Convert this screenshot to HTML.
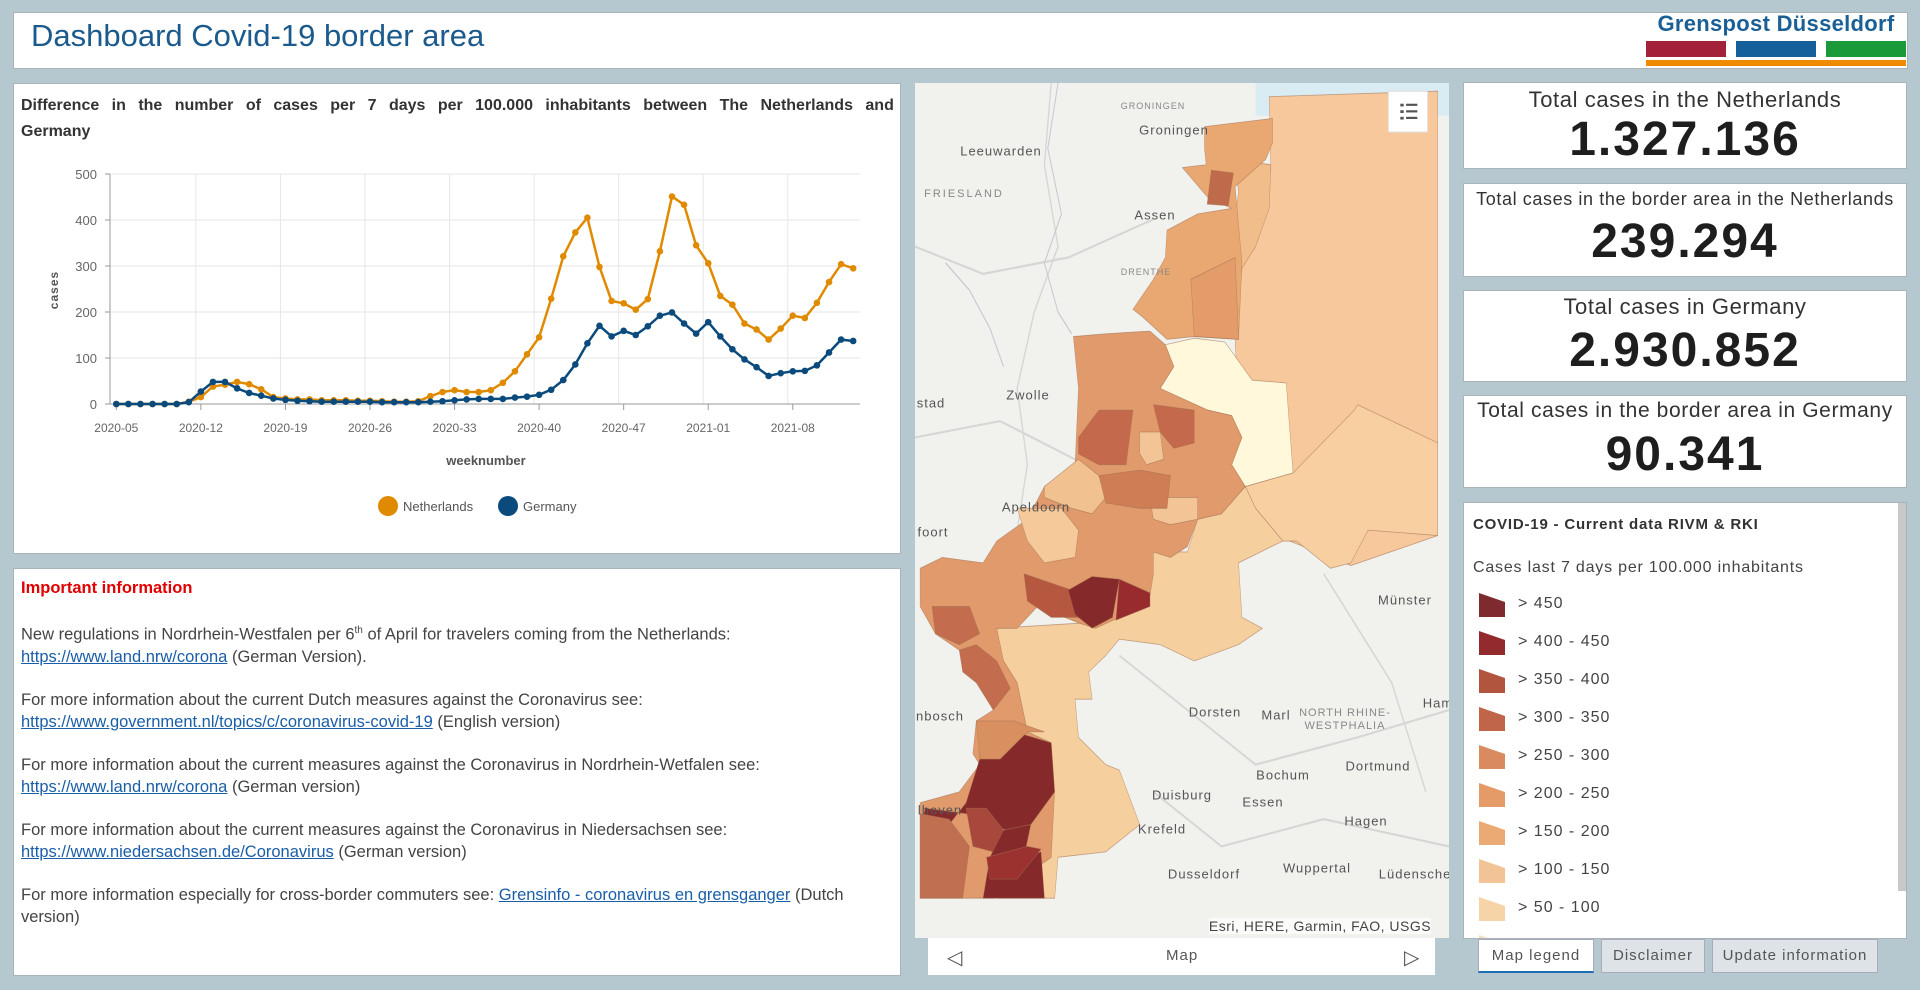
<!DOCTYPE html>
<html><head><meta charset="utf-8">
<style>
*{margin:0;padding:0;box-sizing:border-box}
body{width:1920px;height:990px;background:#b5c8d0;position:relative;overflow:hidden;font-family:"Liberation Sans",sans-serif}
.p{position:absolute;background:#fff;border:1px solid #a9b4ba}
.abs{position:absolute;white-space:nowrap}
.stat{text-align:center;color:#222}
.stat .l{position:absolute;left:0;right:0;font-size:22px;letter-spacing:0.6px;color:#333}
.stat .n{position:absolute;left:0;right:0;font-size:48px;font-weight:bold;letter-spacing:2px;color:#1e1e1e}
.info{font-size:16.5px;color:#444;line-height:22px}
.info a{color:#1a5ea8;text-decoration:underline}
.ml{position:absolute;font-size:13px;color:#555;letter-spacing:1px;white-space:nowrap;transform:translate(-50%,-50%)}
.leg{position:absolute;font-size:16px;color:#444;letter-spacing:1px}
.tab{position:absolute;top:939px;height:34px;border:1px solid #aab;background:#dde3e6;font-size:15px;color:#555;text-align:center;line-height:32px;letter-spacing:1px}
</style></head><body>
<!-- header -->
<div class="p" style="left:13px;top:12px;width:1895px;height:57px"></div>
<div class="abs" style="left:31px;top:18px;font-size:31px;color:#1b5a8c">Dashboard Covid-19 border area</div>
<div class="abs" style="left:1646px;top:11px;width:260px;font-size:22px;font-weight:bold;color:#1a5f95;letter-spacing:0.3px;text-align:center">Grenspost Düsseldorf</div>
<div class="abs" style="left:1646px;top:41px;width:80px;height:16px;background:#a3223a"></div>
<div class="abs" style="left:1736px;top:41px;width:80px;height:16px;background:#155f9a"></div>
<div class="abs" style="left:1826px;top:41px;width:80px;height:16px;background:#1b9a3a"></div>
<div class="abs" style="left:1646px;top:60px;width:260px;height:6px;background:#ef8b00"></div>

<!-- chart panel -->
<div class="p" style="left:13px;top:83px;width:888px;height:471px"></div>
<div class="abs" style="left:21px;top:93px;width:873px;font-size:16px;font-weight:bold;color:#333;line-height:26px">
<div style="display:flex;justify-content:space-between"><span>Difference</span><span>in</span><span>the</span><span>number</span><span>of</span><span>cases</span><span>per</span><span>7</span><span>days</span><span>per</span><span>100.000</span><span>inhabitants</span><span>between</span><span>The</span><span>Netherlands</span><span>and</span></div>
<div>Germany</div></div>
<svg id="ch" class="abs" style="left:0;top:0" width="1920" height="990"></svg>

<!-- info panel -->
<div class="p" style="left:13px;top:568px;width:888px;height:408px"></div>
<div class="abs info" style="left:21px;top:577px;white-space:normal;width:870px">
<div style="color:#e00000;font-weight:bold">Important information</div>
<div style="height:21px"></div>
<div>New regulations in Nordrhein-Westfalen per 6<sup style="font-size:10px">th</sup> of April for travelers coming from the Netherlands:<br><a>https://www.land.nrw/corona</a> (German Version).</div>
<div style="height:21px"></div>
<div>For more information about the current Dutch measures against the Coronavirus see:<br><a>https://www.government.nl/topics/c/coronavirus-covid-19</a> (English version)</div>
<div style="height:21px"></div>
<div>For more information about the current measures against the Coronavirus in Nordrhein-Wetfalen see:<br><a>https://www.land.nrw/corona</a> (German version)</div>
<div style="height:21px"></div>
<div>For more information about the current measures against the Coronavirus in Niedersachsen see:<br><a>https://www.niedersachsen.de/Coronavirus</a> (German version)</div>
<div style="height:21px"></div>
<div>For more information especially for cross-border commuters see: <a>Grensinfo - coronavirus en grensganger</a> (Dutch<br>version)</div>
</div>

<!-- map -->
<div class="abs" style="left:915px;top:83px;width:534px;height:855px;background:#f1f1ee;overflow:hidden">
<svg width="534" height="855" viewBox="0 0 1568 1568" preserveAspectRatio="none" style="position:absolute;left:0;top:0">
<rect x="1000" y="0" width="568" height="60" fill="#d9ebf3"/>
<g fill="none" stroke="#d6d6d6" stroke-width="4">
<path d="M400,0 L380,150 L420,300 L350,420 L300,560 L330,700 L280,900"/>
<path d="M0,300 L200,350 L450,320 L700,250"/>
<path d="M0,650 L250,620 L500,700"/>
<path d="M600,1050 L800,1150 L1000,1250 L1300,1200 L1568,1150"/>
<path d="M700,1300 L900,1400 L1200,1350 L1568,1400"/>
<path d="M1200,900 L1300,1000 L1400,1100 L1500,1300"/>
</g>
<g fill="none" stroke="#c9c9d2" stroke-width="3">
<path d="M420,0 L390,120 L430,240 L380,330 L420,420 L460,460"/>
<path d="M90,330 L160,380 L220,450 L260,520"/>
</g>
<g stroke="#a07050" stroke-width="1.5" stroke-opacity="0.6">
<polygon fill="#f6c89b" points="1040,25 1535,15 1535,830 1280,885 1100,840 970,740 940,480 960,340 1045,160"/>
<polygon fill="#f7cfa1" points="1300,590 1535,660 1535,830 1330,820 1280,880 1220,890 1120,840 1080,840 1000,780 970,740 1110,715 1290,600"/>
<polygon fill="#f1bd8b" points="940,140 1045,150 1040,230 1000,300 960,340 930,290 950,200"/>
<polygon fill="#e9a872" points="850,80 1050,65 1050,110 1030,140 940,190 960,330 950,470 820,465 740,470 670,430 640,415 700,360 735,320 740,270 830,240 930,230 860,210 785,155 855,150 850,120"/>
<polygon fill="#e39c6a" points="810,360 940,320 950,470 820,465"/>
<polygon fill="#c06a4c" points="870,160 935,165 920,225 858,222"/>
<polygon fill="#fff8da" points="735,480 820,468 910,475 990,545 1090,550 1110,715 970,740 930,700 960,650 930,610 860,600 760,580 720,560 760,520"/>
<polygon fill="#f6cf9f" points="700,860 800,860 830,800 900,790 970,740 1000,780 1080,840 950,880 960,980 1020,1000 950,1030 820,1060 720,1030 600,1020 560,1050 510,1080 520,1130 470,1130 480,1200 560,1250 600,1260 660,1360 560,1410 420,1420 410,1495 240,1495 240,1200 330,1190 300,1100 250,1050 240,1000 500,990"/>
<polygon fill="#e19a6b" points="465,465 560,460 690,455 735,480 760,520 720,560 860,600 930,610 960,650 930,700 970,740 900,790 830,800 800,850 750,870 700,860 700,900 690,940 600,980 530,1000 480,990 360,960 300,1000 240,1000 260,1060 300,1100 330,1190 400,1210 410,1300 400,1420 230,1495 15,1495 15,1320 130,1300 190,1250 170,1230 180,1170 230,1150 180,1080 130,1040 60,1010 15,960 15,890 80,870 200,880 240,840 330,800 380,740 470,700 480,560"/>
<polygon fill="#f1c190" points="480,690 540,720 560,760 520,790 460,780 380,760 380,740"/>
<polygon fill="#f3c596" points="690,760 830,760 830,800 750,810 700,800"/>
<polygon fill="#c4694b" points="480,650 540,600 640,600 620,700 540,700 480,680"/>
<polygon fill="#c4694b" points="700,590 820,600 820,660 760,670 720,640"/>
<polygon fill="#f3c596" points="660,640 720,640 730,690 680,700 660,680"/>
<polygon fill="#cf7d55" points="540,720 660,710 750,720 740,780 660,780 560,770"/>
<polygon fill="#f5c99a" points="300,780 430,780 480,820 470,870 380,880 330,840"/>
<polygon fill="#b5583f" points="320,900 460,930 480,980 400,980 330,950"/>
<polygon fill="#86292b" points="450,930 520,905 600,910 580,980 520,1000 470,975"/>
<polygon fill="#982b2e" points="600,910 690,935 690,960 590,985"/>
<polygon fill="#c36c4e" points="50,960 160,960 190,1010 130,1030 60,1010"/>
<polygon fill="#c36c4e" points="130,1040 180,1030 240,1060 280,1110 230,1150 180,1100 140,1080"/>
<polygon fill="#85292b" points="190,1240 320,1195 400,1210 410,1300 340,1360 270,1370 210,1360 150,1340 30,1330 20,1360 100,1360 150,1320"/>
<polygon fill="#a8473c" points="150,1330 210,1330 260,1370 230,1410 170,1400"/>
<polygon fill="#85292b" points="260,1370 340,1360 320,1420 370,1410 380,1495 200,1495 220,1420"/>
<polygon fill="#9b322f" points="210,1420 330,1400 370,1405 300,1460 220,1460"/>
<polygon fill="#c07050" points="15,1340 100,1350 160,1400 140,1495 15,1495"/>
<polygon fill="#d99060" points="180,1170 290,1170 380,1190 330,1190 250,1240 190,1240"/>
</g>
<rect x="1390" y="15" width="115" height="75" fill="#fff" stroke="#ddd" stroke-width="2"/>
<g fill="#555"><rect x="1425" y="38" width="10" height="5"/><rect x="1442" y="38" width="33" height="4"/><rect x="1425" y="50" width="10" height="5"/><rect x="1442" y="50" width="33" height="4"/><rect x="1425" y="62" width="10" height="5"/><rect x="1442" y="62" width="33" height="4"/></g>
</svg>
<div class="ml" style="left:259px;top:47px">Groningen</div>
<div class="ml" style="left:238px;top:23px;font-size:9px;color:#888">GRONINGEN</div>
<div class="ml" style="left:86px;top:68px">Leeuwarden</div>
<div class="ml" style="left:49px;top:111px;font-size:11px;color:#888;letter-spacing:2px">FRIESLAND</div>
<div class="ml" style="left:240px;top:132px">Assen</div>
<div class="ml" style="left:231px;top:189px;font-size:9px;color:#888">DRENTHE</div>
<div class="ml" style="left:113px;top:312px">Zwolle</div>
<div class="ml" style="left:121px;top:424px">Apeldoorn</div>
<div class="ml" style="left:18px;top:449px">foort</div>
<div class="ml" style="left:16px;top:320px">stad</div>
<div class="ml" style="left:25px;top:633px">nbosch</div>
<div class="ml" style="left:25px;top:727px">lhoven</div>
<div class="ml" style="left:300px;top:629px">Dorsten</div>
<div class="ml" style="left:361px;top:632px">Marl</div>
<div class="ml" style="left:430px;top:637px;font-size:11px;color:#888;line-height:13px;text-align:center;white-space:normal;width:100px">NORTH RHINE-WESTPHALIA</div>
<div class="ml" style="left:490px;top:517px">Münster</div>
<div class="ml" style="left:523px;top:620px">Ham</div>
<div class="ml" style="left:368px;top:692px">Bochum</div>
<div class="ml" style="left:463px;top:683px">Dortmund</div>
<div class="ml" style="left:267px;top:712px">Duisburg</div>
<div class="ml" style="left:348px;top:719px">Essen</div>
<div class="ml" style="left:451px;top:738px">Hagen</div>
<div class="ml" style="left:247px;top:746px">Krefeld</div>
<div class="ml" style="left:289px;top:791px">Dusseldorf</div>
<div class="ml" style="left:402px;top:785px">Wuppertal</div>
<div class="ml" style="left:502px;top:791px">Lüdenschei</div>
<div class="ml" style="left:405px;top:843px;background:rgba(255,255,255,0.7);color:#444;font-size:14px;letter-spacing:0.5px">Esri, HERE, Garmin, FAO, USGS</div>
</div>
<div class="abs" style="left:928px;top:938px;width:507px;height:37px;background:#fff"></div>
<div class="abs" style="left:947px;top:945px;font-size:20px;color:#555">◁</div>
<div class="abs" style="left:1166px;top:947px;font-size:15px;color:#555;letter-spacing:1px">Map</div>
<div class="abs" style="left:1404px;top:945px;font-size:20px;color:#555">▷</div>

<!-- stats -->
<div class="p stat" style="left:1463px;top:82px;width:444px;height:87px"><div class="l" style="top:4px">Total cases in the Netherlands</div><div class="n" style="top:29px">1.327.136</div></div>
<div class="p stat" style="left:1463px;top:183px;width:444px;height:94px"><div class="l" style="top:5px;font-size:18px">Total cases in the border area in the Netherlands</div><div class="n" style="top:30px">239.294</div></div>
<div class="p stat" style="left:1463px;top:290px;width:444px;height:92px"><div class="l" style="top:3px">Total cases in Germany</div><div class="n" style="top:32px">2.930.852</div></div>
<div class="p stat" style="left:1463px;top:395px;width:444px;height:93px"><div class="l" style="top:3px;font-size:21px">Total cases in the border area in Germany</div><div class="n" style="top:31px">90.341</div></div>

<!-- legend -->
<div class="p" style="left:1463px;top:502px;width:444px;height:437px;overflow:hidden" id="lg">
<div class="abs" style="left:9px;top:13px;font-size:15px;font-weight:bold;color:#333;letter-spacing:0.8px">COVID-19 - Current data RIVM &amp; RKI</div>
<div class="abs" style="left:9px;top:56px;font-size:16px;color:#444;letter-spacing:0.8px">Cases last 7 days per 100.000 inhabitants</div>
<div class="abs" style="left:434px;top:0;width:8px;height:388px;background:#c8c8c8"></div>
</div>
<div class="tab" style="left:1478px;width:116px;background:#fff;border-bottom:2px solid #1a6fb5">Map legend</div>
<div class="tab" style="left:1601px;width:104px">Disclaimer</div>
<div class="tab" style="left:1712px;width:166px">Update information</div>

<script>
var NL=[0,0,0,0,0,0,5,15,38,42,48,43,32,15,12,10,10,8,8,8,7,7,6,5,5,6,17,26,30,26,26,30,46,71,108,145,229,321,373,405,298,224,219,205,228,332,451,433,345,306,235,216,175,162,140,164,192,187,220,265,304,295];
var DE=[0,0,0,0,0,0,4,27,48,48,34,24,18,12,9,7,6,5,5,5,5,5,4,4,4,4,5,6,8,10,11,11,11,14,16,20,31,52,86,132,170,147,159,150,169,192,199,175,153,178,147,119,97,80,61,67,71,72,84,112,140,137];
var s='',X=function(i){return 116.3+i*12.08},Y=function(v){return 404-v*0.46};
for(var v=100;v<=500;v+=100)s+='<line x1="110" x2="860" y1="'+Y(v)+'" y2="'+Y(v)+'" stroke="#e6e6e6"/>';
var lab=['2020-05','2020-12','2020-19','2020-26','2020-33','2020-40','2020-47','2021-01','2021-08'];
for(var k=0;k<9;k++){var x=X(k*7);if(k>0)s+='<line x1="'+(x-5)+'" x2="'+(x-5)+'" y1="174" y2="404" stroke="#e6e6e6"/>';
s+='<line x1="'+x+'" x2="'+x+'" y1="404" y2="410" stroke="#999"/><text x="'+x+'" y="432" font-size="12" fill="#666" text-anchor="middle">'+lab[k]+'</text>';}
s+='<line x1="110" x2="110" y1="174" y2="404" stroke="#999"/><line x1="110" x2="860" y1="404" y2="404" stroke="#999"/>';
for(v=0;v<=500;v+=100)s+='<line x1="105" x2="110" y1="'+Y(v)+'" y2="'+Y(v)+'" stroke="#999"/><text x="97" y="'+(Y(v)+5)+'" font-size="13" fill="#666" text-anchor="end">'+v+'</text>';
s+='<text transform="translate(58,290) rotate(-90)" font-size="12" font-weight="bold" fill="#555" text-anchor="middle" letter-spacing="1">cases</text>';
s+='<text x="486" y="465" font-size="13" font-weight="bold" fill="#555" text-anchor="middle">weeknumber</text>';
function ser(d,c){var p=d.map(function(v,i){return X(i).toFixed(1)+','+Y(v).toFixed(1)}).join(' ');var o='<polyline points="'+p+'" fill="none" stroke="'+c+'" stroke-width="2.5"/>';d.forEach(function(v,i){o+='<circle cx="'+X(i)+'" cy="'+Y(v)+'" r="3.3" fill="'+c+'"/>'});return o;}
s+=ser(NL,'#e08a00')+ser(DE,'#0b4a7d');
s+='<circle cx="388" cy="506" r="10" fill="#e08a00"/><text x="403" y="511" font-size="13" fill="#555">Netherlands</text>';
s+='<circle cx="508" cy="506" r="10" fill="#0b4a7d"/><text x="523" y="511" font-size="13" fill="#555">Germany</text>';
document.getElementById('ch').innerHTML=s;
var cols=['#7f2a2e','#922a2e','#b2553f','#c1654a','#d98a5f','#e59b67','#ebaa74','#f2c396','#f6d4a8','#f9e0b8'];
var lt=['&gt; 450','&gt; 400 - 450','&gt; 350 - 400','&gt; 300 - 350','&gt; 250 - 300','&gt; 200 - 250','&gt; 150 - 200','&gt; 100 - 150','&gt; 50 - 100',''];
var h='';for(var j=0;j<10;j++){var y=90+j*38;
h+='<svg class="abs" style="left:15px;top:'+y+'px" width="27" height="25"><polygon points="0,0 26,9 26,24 0,24" fill="'+cols[j]+'"/></svg>';
h+='<div class="leg" style="left:54px;top:'+(y+2)+'px">'+lt[j]+'</div>';}
document.getElementById('lg').insertAdjacentHTML('beforeend',h);
</script>
</body></html>
